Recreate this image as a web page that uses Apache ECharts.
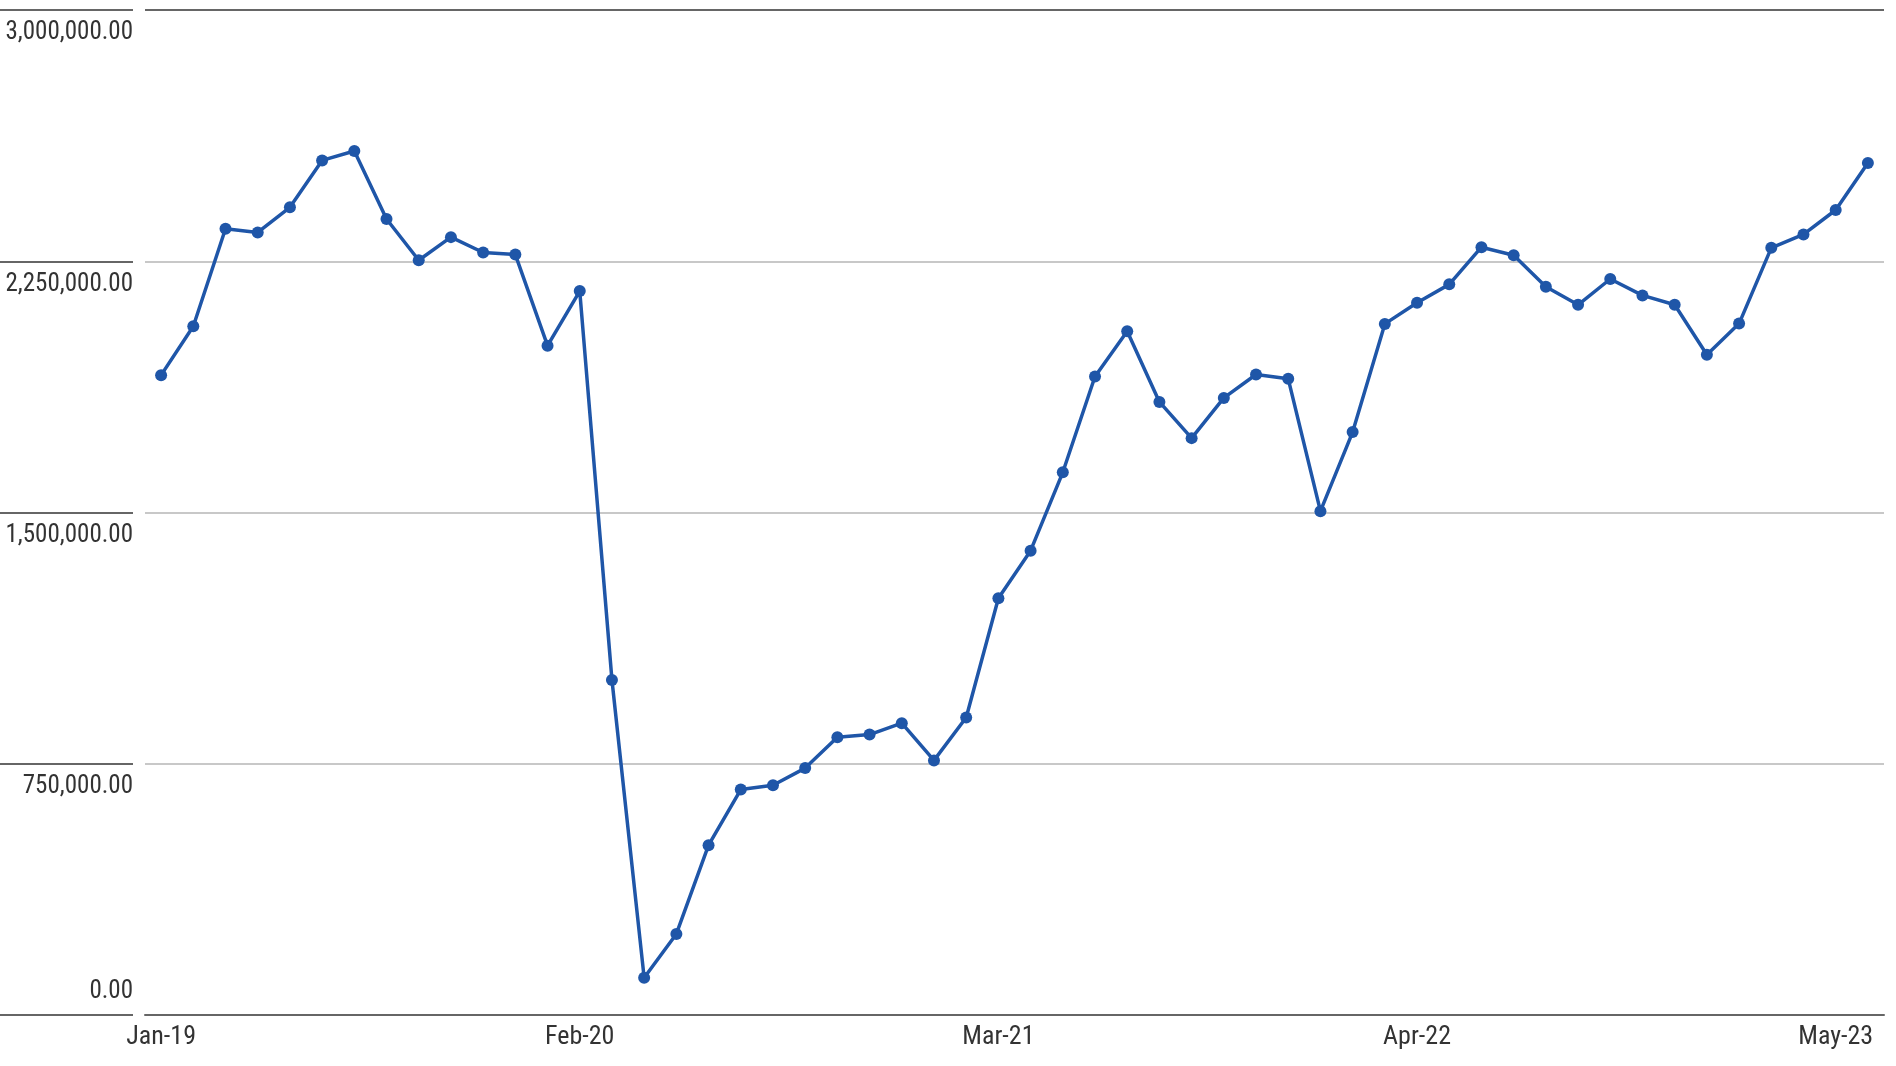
<!DOCTYPE html>
<html>
<head>
<meta charset="utf-8">
<script src="https://cdn.jsdelivr.net/npm/echarts@6/dist/echarts.min.js"></script>
<style>
  html, body { margin: 0; padding: 0; background: #fff; }
  #chart { width: 1896px; height: 1066px; }
</style>
</head>
<body>
<div id="chart"></div>
<script>
const months = [
  'Jan-19','Feb-19','Mar-19','Apr-19','May-19','Jun-19','Jul-19','Aug-19','Sep-19','Oct-19','Nov-19','Dec-19',
  'Jan-20','Feb-20','Mar-20','Apr-20','May-20','Jun-20','Jul-20','Aug-20','Sep-20','Oct-20','Nov-20','Dec-20',
  'Jan-21','Feb-21','Mar-21','Apr-21','May-21','Jun-21','Jul-21','Aug-21','Sep-21','Oct-21','Nov-21','Dec-21',
  'Jan-22','Feb-22','Mar-22','Apr-22','May-22','Jun-22','Jul-22','Aug-22','Sep-22','Oct-22','Nov-22','Dec-22',
  'Jan-23','Feb-23','Mar-23','Apr-23','May-23','Jun-23'
];
const values = [
  1910000, 2056000, 2347000, 2336000, 2411000, 2551000, 2579000, 2376000, 2253000, 2322000, 2276000, 2270000,
  1998000, 2161000, 1000000, 111000, 242000, 507000, 673000, 686000, 737000, 829000, 837000, 871000,
  760000, 888000, 1244000, 1386000, 1620000, 1906000, 2041000, 1830000, 1722000, 1842000, 1912000, 1899000,
  1504000, 1740000, 2063000, 2126000, 2181000, 2292000, 2268000, 2174000, 2120000, 2197000, 2148000, 2120000,
  1971000, 2064000, 2290000, 2330000, 2403000, 2543000
];
const yTicks = [0, 750000, 1500000, 2250000, 3000000];

const FONT = "'Liberation Sans Narrow', 'Roboto Condensed', 'DejaVu Sans Condensed', 'Noto Sans', sans-serif";
const chart = echarts.init(document.getElementById('chart'), null, { renderer: 'canvas' });

function fmt(v) {
  return v.toLocaleString('en-US', { minimumFractionDigits: 2, maximumFractionDigits: 2 });
}

chart.setOption({
  animation: false,
  backgroundColor: '#ffffff',
  grid: { left: 145, right: 12, top: 10, bottom: 51, containLabel: false, outerBoundsMode: 'none' },
  xAxis: {
    type: 'category',
    data: months,
    boundaryGap: true,
    axisLine: { show: true, lineStyle: { color: '#666666', width: 2 } },
    axisTick: { show: false },
    axisLabel: {
      interval: 12,
      margin: 9,
      fontFamily: FONT,
      fontSize: 26,
      color: '#333333'
    },
    splitLine: { show: false }
  },
  yAxis: {
    type: 'value',
    min: yTicks[0],
    max: yTicks[yTicks.length - 1],
    interval: yTicks[1] - yTicks[0],
    offset: 12,
    axisLine: { show: false },
    axisTick: { show: true, length: 133, lineStyle: { color: '#666666', width: 2 } },
    axisLabel: {
      margin: 0,
      fontFamily: FONT,
      fontSize: 25,
      color: '#333333',
      lineHeight: 46,
      align: 'right',
      formatter: function (v) {
        return v === 0 ? fmt(v) + '\n' : '\n' + fmt(v);
      }
    },
    splitLine: {
      show: true,
      lineStyle: { color: ['#666666', '#c8c8c8', '#c8c8c8', '#c8c8c8', '#666666'], width: 2 }
    }
  },
  series: [{
    type: 'line',
    data: values,
    symbol: 'circle',
    symbolSize: 12,
    showSymbol: true,
    lineStyle: { color: '#1f56a8', width: 3.5 },
    itemStyle: { color: '#1f56a8' }
  }]
});
</script>
</body>
</html>
